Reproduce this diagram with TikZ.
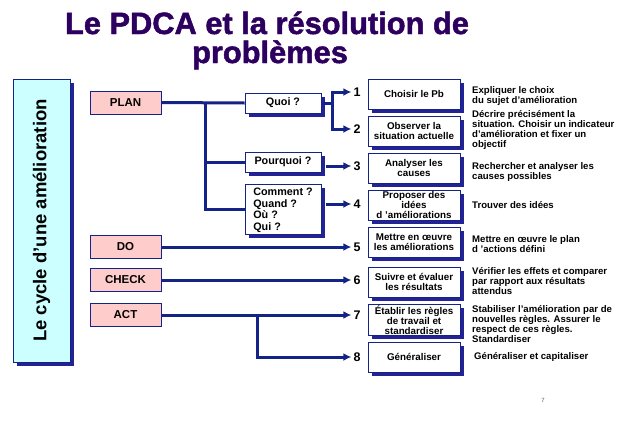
\documentclass[tikz,border=0pt]{standalone}
\usepackage{fontspec}
\setmainfont{Liberation Sans}
\newfontfamily\titlefont{Liberation Sans}[FakeBold=1.6]
\usetikzlibrary{positioning, shadows, arrows.meta}
\definecolor{lineblue}{RGB}{20,35,135}
\definecolor{shadowblue}{RGB}{35,35,150}
\definecolor{titlepurple}{RGB}{45,0,95}
\definecolor{pinkfill}{RGB}{255,204,204}
\definecolor{cyanfill}{RGB}{204,255,255}

\begin{document}
\begin{tikzpicture}[>={Latex[length=8pt,width=8pt]}, x=1pt, y=-1pt]

        % --- Définition des styles ---
        \tikzset{
            link/.style={line width=3pt, lineblue},
            arrow/.style={link, ->},
            titre/.style={text=titlepurple, font=\titlefont\fontsize{30.8}{31}\selectfont\bfseries, anchor=base, inner sep=0pt},
            bleushadow/.style={general shadow={shadow xshift=3.5pt, shadow yshift=-3.5pt, fill=shadowblue, fill opacity=1, draw=none}},
            % Boîtes selon leur rôle
            cyclebox/.style={draw=lineblue, thick, fill=cyanfill, bleushadow, minimum width=283pt, minimum height=57pt, font=\fontsize{18.5}{18.5}\selectfont\bfseries},
            phasebox/.style={draw=lineblue, thick, fill=pinkfill, minimum width=71pt, minimum height=23pt, font=\fontsize{11.5}{11.5}\selectfont\bfseries},
            questbox/.style={draw=lineblue, thick, fill=white, bleushadow, minimum width=76pt, minimum height=20pt, font=\fontsize{10.8}{11.5}\selectfont\bfseries},
            stepbox/.style={draw=lineblue, thick, fill=white, bleushadow, minimum width=92pt, minimum height=30pt, inner sep=1pt, align=center, font=\fontsize{9.8}{10}\selectfont\bfseries},
            num/.style={font=\fontsize{12.5}{12.5}\selectfont\bfseries, inner sep=2pt},
            desc/.style={anchor=west, align=left, inner sep=0pt, font=\fontsize{9.6}{10.3}\selectfont\bfseries}
        }

        \fill[white] (0,0) rectangle (638,426);
        \useasboundingbox (0,0) rectangle (638,426);

        % --- Titre ---
        \node[titre] (titre1) at (267,34) {Le PDCA et la résolution de};
        \node[titre] (titre2) at (270,63) {problèmes};

        % --- Cycle ---
        \node[cyclebox, rotate=90] (cycle) at (41.5,220.5) {Le cycle d'une amélioration};

        % --- Phases PDCA ---
        \node[phasebox] (plan) at (125.5,102.5) {PLAN};
        \node[phasebox] (do) at (125.5,247) {DO};
        \node[phasebox] (check) at (125.5,280) {CHECK};
        \node[phasebox] (act) at (125.5,315) {ACT};

        % --- Questions ---
        \node[questbox] (quoi) at (283,103) {Quoi ?};
        \node[questbox] (pourquoi) at (283,162) {Pourquoi ?};
        \node[questbox, minimum height=50pt, align=left, anchor=north, inner sep=2pt] (comment) at (283,184)
            {Comment ?\\Quand ?\\Où ?\\Qui ?\\[-11pt]\mbox{}};

        % --- Numéros ---
        \node[num] (n1) at (357,92) {1};
        \node[num] (n2) at (357,129) {2};
        \node[num] (n3) at (357,166) {3};
        \node[num] (n4) at (357,204) {4};
        \node[num] (n5) at (357,247) {5};
        \node[num] (n6) at (357,280) {6};
        \node[num] (n7) at (357,315) {7};
        \node[num] (n8) at (357,357) {8};

        % --- Étapes ---
        \node[stepbox] (s1) at (414,94) {Choisir le Pb};
        \node[stepbox] (s2) at (414,131) {Observer la\\situation actuelle};
        \node[stepbox] (s3) at (414,168) {Analyser les\\causes};
        \node[stepbox] (s4) at (414,205) {Proposer des\\idées\\d 'améliorations};
        \node[stepbox] (s5) at (414,242) {Mettre en œuvre\\les améliorations};
        \node[stepbox] (s6) at (414,282) {Suivre et évaluer\\les résultats};
        \node[stepbox] (s7) at (414,320) {Établir les règles\\de travail et\\standardiser};
        \node[stepbox] (s8) at (414,357) {Généraliser};

        % --- Descriptions ---
        \node[desc] (d1) at (472,96) {Expliquer le choix\\du sujet d'amélioration};
        \node[desc] (d2) at (472,130) {Décrire précisément la\\situation. Choisir un indicateur\\d'amélioration et fixer un\\objectif};
        \node[desc] (d3) at (472,172) {Rechercher et analyser les\\causes possibles};
        \node[desc] (d4) at (472,205) {Trouver des idées};
        \node[desc] (d5) at (472,244) {Mettre en œuvre le plan\\d 'actions défini};
        \node[desc] (d6) at (472,281) {Vérifier les effets et comparer\\par rapport aux résultats\\attendus};
        \node[desc] (d7) at (472,324) {Stabiliser l'amélioration par de\\nouvelles règles. Assurer le\\respect de ces règles.\\Standardiser};
        \node[desc] (d8) at (474,357) {Généraliser et capitaliser};

        % --- Liaisons PLAN ---
        \coordinate (tronc) at (205,103);
        \draw[link] (plan.east) -- (quoi.west);
        \draw[link] (tronc) |- (comment.west);
        \draw[link] (tronc |- pourquoi.west) -- (pourquoi.west);

        \coordinate (fourche) at (332,103);
        \draw[link] (quoi.east) -- (fourche);
        \draw[arrow] (fourche) |- (n1.west);
        \draw[arrow] (fourche) |- (n2.west);
        \draw[arrow, shorten <=5pt] (pourquoi.east |- n3.west) -- (n3.west);
        \draw[arrow, shorten <=5pt] (comment.east |- n4.west) -- (n4.west);

        % --- Liaisons DO, CHECK, ACT ---
        \draw[arrow] (do.east) -- (n5.west);
        \draw[arrow] (check.east) -- (n6.west);
        \draw[arrow] (act.east) -- (n7.west);
        \coordinate (branche) at (257,315);
        \draw[arrow] (branche) |- (n8.west);

        % --- Numéro de page ---
        \node[font=\fontsize{6}{6}\selectfont, text=gray!70!black] (page) at (543,400) {7};

    \end{tikzpicture}
\end{document}
